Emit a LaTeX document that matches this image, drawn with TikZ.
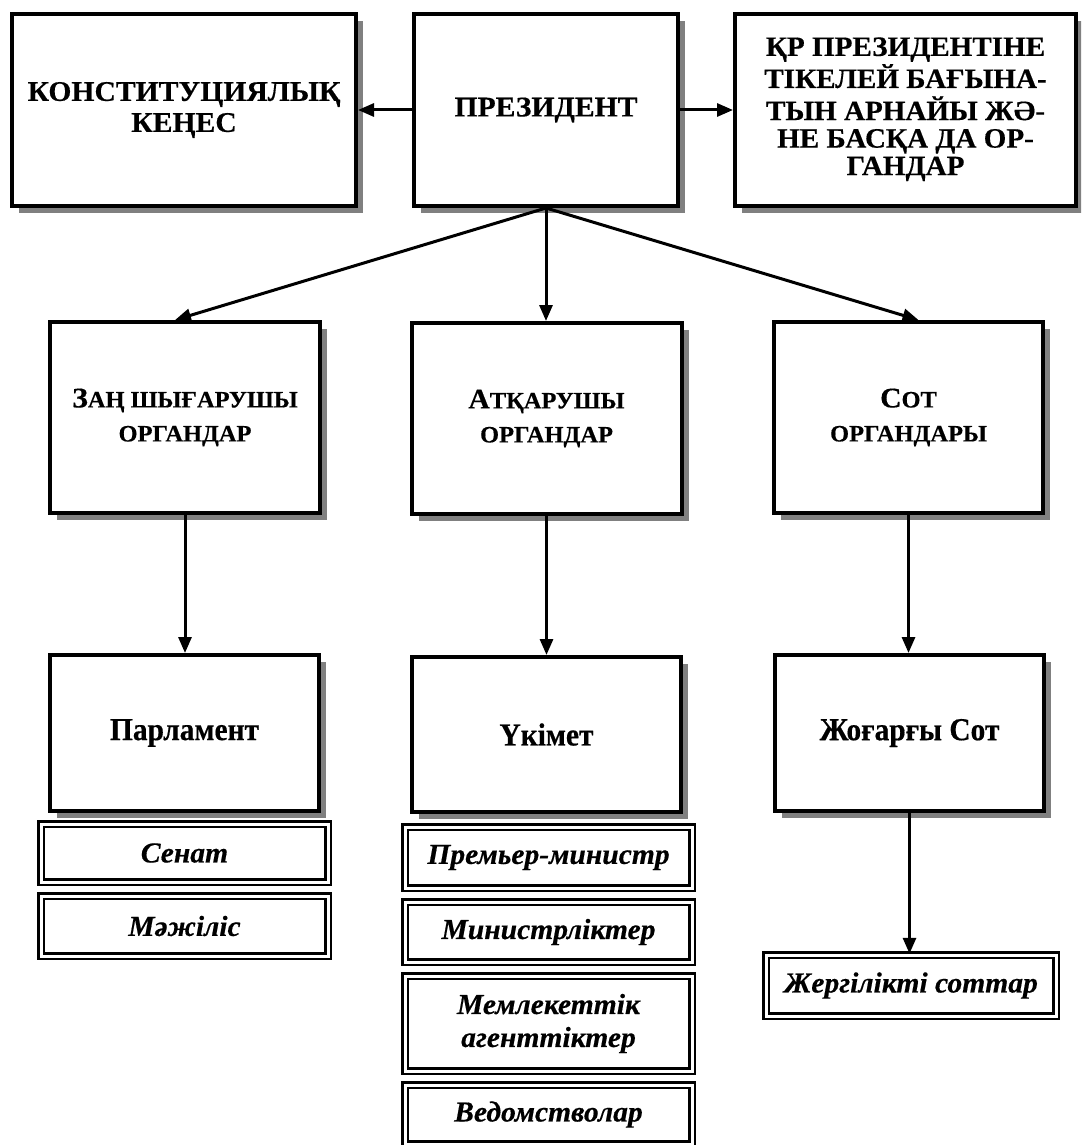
\documentclass[tikz,border=0pt]{standalone}
\usepackage{fontspec}
\setmainfont{Liberation Serif}
\newfontfamily\topff{Liberation Serif}[FakeStretch=1.04,FakeBold=0.4]
\newfontfamily\midff{Liberation Serif}[FakeStretch=1.04,FakeBold=0.4]
\newfontfamily\lowff{Liberation Serif}[FakeStretch=0.92,FakeBold=0.4]
\newfontfamily\itff{Liberation Serif}[FakeStretch=1.02,FakeBold=0.4]
\usetikzlibrary{arrows.meta,shadows}
\tikzset{
  bigbox/.style={draw, line width=4pt, fill=white, align=center, inner sep=0pt,
    general shadow={fill=black!50, shadow xshift=7pt, shadow yshift=-7pt}},
  subbox/.style={draw, double=white, double distance=3pt, line width=2.5pt, fill=white,
    align=center, inner sep=0pt, font=\itff\bfseries\itshape\fontsize{29}{33}\selectfont},
  arr/.style={line width=3pt, -{Triangle[length=16pt,width=13pt]}},
  topfont/.style={font=\topff\bfseries\fontsize{28.5}{31}\selectfont},
  midfont/.style={font=\midff\bfseries\fontsize{23.5}{34}\selectfont},
  lowfont/.style={font=\lowff\bfseries\fontsize{32}{34}\selectfont}
}
\newcommand{\bigL}[1]{{\fontsize{28.5}{34}\selectfont #1}}
\begin{document}
\begin{tikzpicture}[x=1pt,y=-1pt]
\path[use as bounding box, clip] (0,0) rectangle (1081,1145);
\fill[white] (0,0) rectangle (1081,1145);
% top row
\node[bigbox, topfont, minimum width=344pt, minimum height=192pt] (konst) at (184,110)
  {КОНСТИТУЦИЯЛЫҚ\\КЕҢЕС};
\node[bigbox, topfont, minimum width=264pt, minimum height=192pt] (pres) at (546,110)
  {ПРЕЗИДЕНТ};
\node[bigbox, topfont, font=\topff\bfseries\fontsize{28}{27.5}\selectfont, minimum width=341pt, minimum height=192pt] (spec) at (905.5,110)
  {\raisebox{5pt}{\begin{tabular}{@{}c@{}}ҚР ПРЕЗИДЕНТІНЕ\\ТІКЕЛЕЙ БАҒЫНА-\\ТЫН АРНАЙЫ ЖӘ-\\НЕ БАСҚА ДА ОР-\\ГАНДАР\end{tabular}}};
% middle row
\node[bigbox, midfont, minimum width=270pt, minimum height=191pt] (zan) at (185,417.5)
  {\bigL{З}АҢ ШЫҒАРУШЫ\\ОРГАНДАР};
\node[bigbox, midfont, minimum width=270pt, minimum height=191pt] (atk) at (546.5,418.5)
  {\bigL{А}ТҚАРУШЫ\\ОРГАНДАР};
\node[bigbox, midfont, minimum width=269pt, minimum height=191pt] (sot) at (908.5,417.5)
  {\bigL{С}ОТ\\ОРГАНДАРЫ};
% bottom row
\node[bigbox, lowfont, minimum width=269pt, minimum height=156pt] (parl) at (184.5,733)
  {Парламент};
\node[bigbox, lowfont, minimum width=269pt, minimum height=155pt] (ukm) at (546.5,734.5)
  {Үкімет};
\node[bigbox, lowfont, minimum width=269pt, minimum height=156pt] (jog) at (909.5,733)
  {Жоғарғы Сот};
% sub boxes
\node[subbox, minimum width=287pt, minimum height=58pt] (senat) at (184.5,853) {Сенат};
\node[subbox, minimum width=287pt, minimum height=60pt] (mazh) at (184.5,926) {Мәжіліс};
\node[subbox, minimum width=287pt, minimum height=61pt] (prem) at (548.5,857.5) {Премьер-министр};
\node[subbox, minimum width=287pt, minimum height=60pt] (min) at (548.5,932) {Министрліктер};
\node[subbox, minimum width=287pt, minimum height=95pt] (meml) at (548.5,1023.5) {Мемлекеттік\\агенттіктер};
\node[subbox, minimum width=287pt, minimum height=59pt] (ved) at (548.5,1114.5) {Ведомстволар};
\node[subbox, minimum width=290pt, minimum height=61pt] (jerg) at (911,985.5) {Жергілікті соттар};
% connectors
\draw[arr] (pres.west) -- (konst.east);
\draw[arr] (pres.east) -- (spec.west);
\draw[arr] (pres.south) -- ([xshift=-10pt]zan.north);
\draw[arr] (pres.south) -- (pres.south |- atk.north);
\draw[arr] (pres.south) -- ([xshift=10pt]sot.north);
\draw[arr] (zan.south) -- (zan.south |- parl.north);
\draw[arr] (atk.south) -- (atk.south |- ukm.north);
\draw[arr] (sot.south) -- (sot.south |- jog.north);
\draw[arr] (jog.south) -- (jog.south |- jerg.north);
\end{tikzpicture}
\end{document}
